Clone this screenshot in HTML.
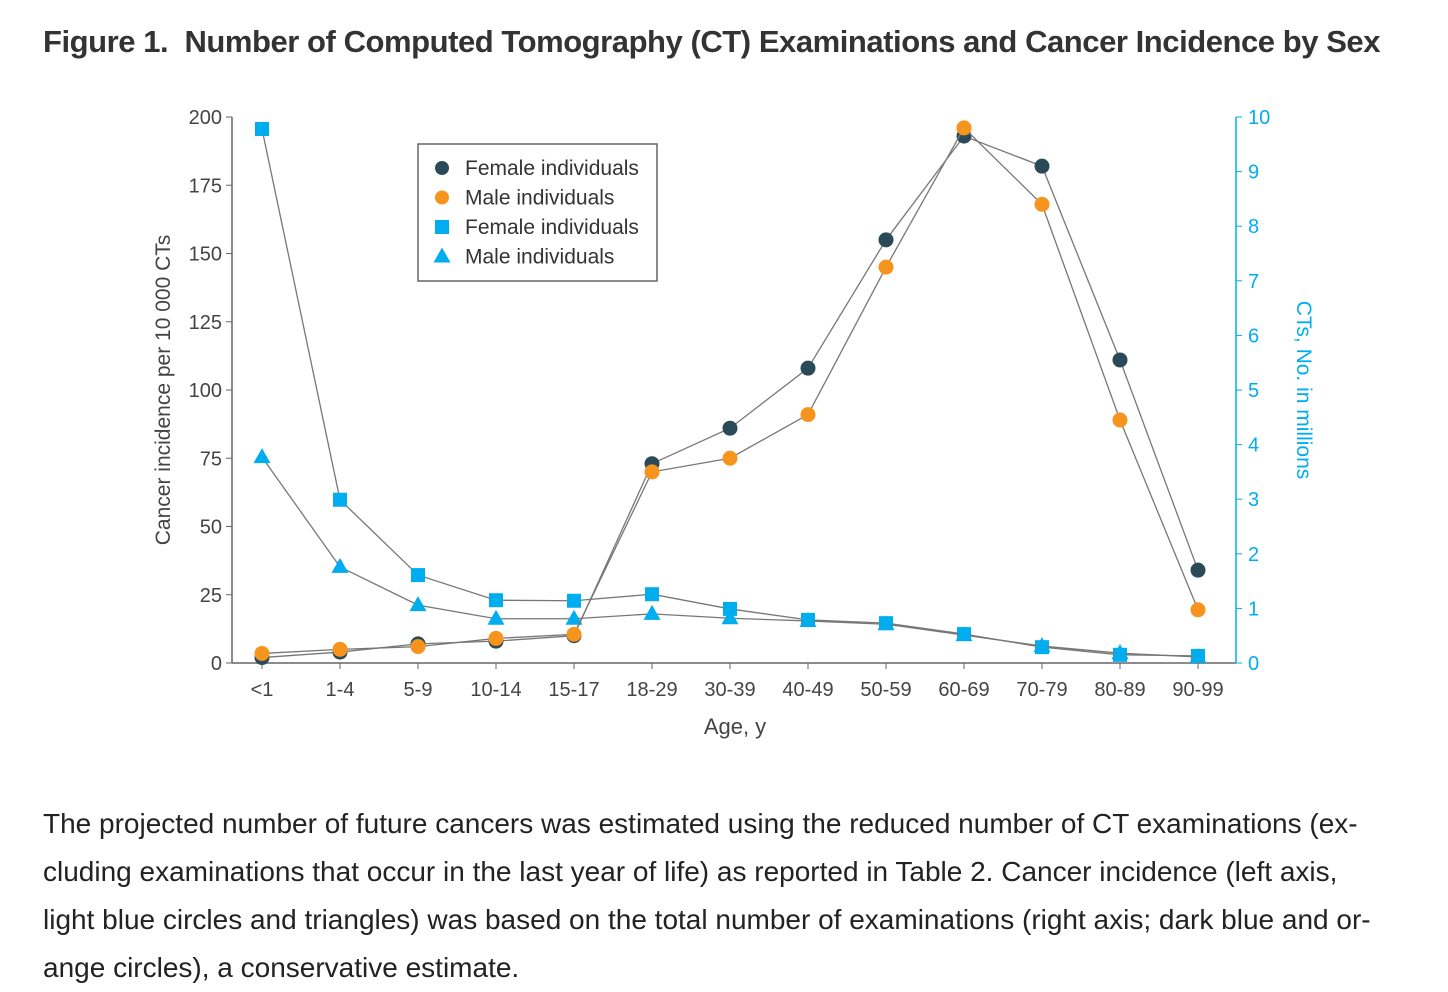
<!DOCTYPE html>
<html><head><meta charset="utf-8"><style>
body{margin:0;background:#fff;width:1448px;height:988px;overflow:hidden;font-family:"Liberation Sans",sans-serif;}
#title{position:absolute;left:43px;top:24px;font-size:31px;font-weight:bold;color:#333;letter-spacing:-0.45px;white-space:nowrap;}
#caption{position:absolute;left:43px;top:800px;width:1400px;font-size:28px;line-height:48px;color:#222;white-space:nowrap;}
svg{position:absolute;left:0;top:0;}
</style></head><body>
<div id="title">Figure 1.&nbsp; Number of Computed Tomography (CT) Examinations and Cancer Incidence by Sex</div>
<svg id="chart" width="1448" height="790"></svg>
<div id="caption">The projected number of future cancers was estimated using the reduced number of CT examinations (ex-<br>cluding examinations that occur in the last year of life) as reported in Table 2. Cancer incidence (left axis,<br>light blue circles and triangles) was based on the total number of examinations (right axis; dark blue and or-<br>ange circles), a conservative estimate.</div>
<script>
const categories=["<1","1-4","5-9","10-14","15-17","18-29","30-39","40-49","50-59","60-69","70-79","80-89","90-99"];
const femaleIncidence=[2,4,7,8,10,73,86,108,155,193,182,111,34];
const maleIncidence=[3.5,5,6,9,10.5,70,75,91,145,196,168,89,19.5];
const femaleCTs=[9.78,2.99,1.61,1.15,1.14,1.26,0.99,0.79,0.73,0.53,0.29,0.15,0.13];
const maleCTs=[3.77,1.76,1.06,0.81,0.81,0.9,0.82,0.77,0.71,0.51,0.31,0.18,0.11];
const leftTicks=[0,25,50,75,100,125,150,175,200];
const rightTicks=[0,1,2,3,4,5,6,7,8,9,10];
const NS="http://www.w3.org/2000/svg";
const svg=document.getElementById('chart');
const x0=232,x1=1236,y0=663,y1=117;
const xs=i=>262+i*78;
const yl=v=>y0-(v/200)*(y0-y1);
const yr=v=>y0-(v/10)*(y0-y1);
function el(t,a,p){const e=document.createElementNS(NS,t);for(const k in a)e.setAttribute(k,a[k]);(p||svg).appendChild(e);return e;}
const DARK="#2b4a58",OR="#f7941d",BL="#00aeef",AX="#666";
let a=el('line',{x1:x0,y1:y0,x2:x1,y2:y0,stroke:AX,'stroke-width':1.5});

a=el('line',{x1:x0,y1:y1,x2:x0,y2:y0,stroke:AX,'stroke-width':1.5});

a=el('line',{x1:x1,y1:y1,x2:x1,y2:y0,stroke:BL,'stroke-width':1.5});

leftTicks.forEach(v=>{el('line',{x1:x0-6,y1:yl(v),x2:x0,y2:yl(v),stroke:AX});
 const t=el('text',{x:x0-10,y:yl(v)+7,'text-anchor':'end','font-size':20,fill:'#444'});t.textContent=v;
 });
rightTicks.forEach(v=>{el('line',{x1:x1,y1:yr(v),x2:x1+6,y2:yr(v),stroke:BL});
 const t=el('text',{x:x1+12,y:yr(v)+7,'font-size':20,fill:BL});t.textContent=v;
 });
categories.forEach((c,i)=>{el('line',{x1:xs(i),y1:y0,x2:xs(i),y2:y0+6,stroke:AX});
 const t=el('text',{x:xs(i),y:696,'text-anchor':'middle','font-size':20,fill:'#444'});t.textContent=c;
 });
let t=el('text',{x:735,y:734,'text-anchor':'middle','font-size':22,fill:'#444'});t.textContent='Age, y';

t=el('text',{x:0,y:0,'text-anchor':'middle','font-size':21,fill:'#444',transform:'translate(170,390) rotate(-90)'});t.textContent='Cancer incidence per 10 000 CTs';

t=el('text',{x:0,y:0,'text-anchor':'middle','font-size':21,fill:BL,transform:'translate(1297,390) rotate(90)'});t.textContent='CTs, No. in millions';

function series(vals,yf,name,shape,col){
 const pts=vals.map((v,i)=>xs(i)+','+yf(v)).join(' ');
 const l=el('polyline',{points:pts,fill:'none',stroke:'#777','stroke-width':1.3});
 
 vals.forEach((v,i)=>{const cx=xs(i),cy=yf(v);let m;
  if(shape==='c')m=el('circle',{cx:cx,cy:cy,r:7.5,fill:col});
  else if(shape==='s')m=el('rect',{x:cx-7,y:cy-7,width:14,height:14,fill:col});
  else m=el('polygon',{points:`${cx},${cy-9} ${cx+8.5},${cy+6} ${cx-8.5},${cy+6}`,fill:col});
  });
}
series(femaleCTs,yr,'female-ct','s',BL);
series(maleCTs,yr,'male-ct','t',BL);
series(femaleIncidence,yl,'female-incidence','c',DARK);
series(maleIncidence,yl,'male-incidence','c',OR);
const lg=el('g',{});
el('rect',{x:418,y:144,width:239,height:137,fill:'#fff',stroke:'#666','stroke-width':1.5},lg);
const labs=["Female individuals","Male individuals","Female individuals","Male individuals"];
labs.forEach((s,k)=>{const cy=168+k*29.5,cx=442;let m;
 if(k===0)m=el('circle',{cx:cx,cy:cy,r:7,fill:DARK},lg);
 else if(k===1)m=el('circle',{cx:cx,cy:cy,r:7,fill:OR},lg);
 else if(k===2)m=el('rect',{x:cx-7,y:cy-7,width:14,height:14,fill:BL},lg);
 else m=el('polygon',{points:`${cx},${cy-9} ${cx+8.5},${cy+6} ${cx-8.5},${cy+6}`,fill:BL},lg);
 
 const tt=el('text',{x:465,y:cy+7,'font-size':21,fill:'#333'},lg);tt.textContent=s;
 });
</script>
</body></html>
